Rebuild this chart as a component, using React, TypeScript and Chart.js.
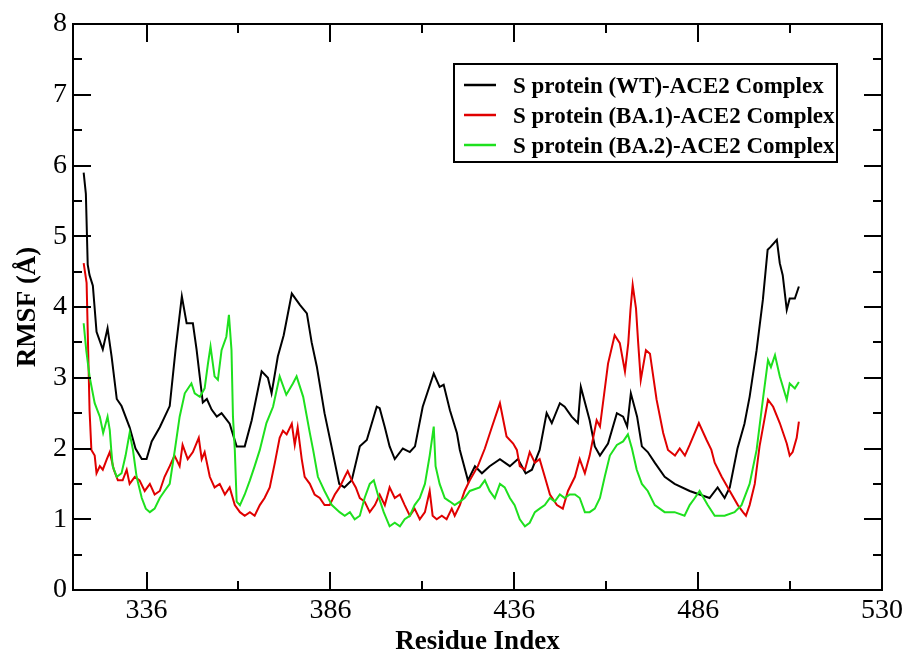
import { useEffect, useRef } from 'react';
import { Chart, registerables } from 'chart.js';

Chart.register(...registerables);

const SERIF = "'Liberation Serif', 'Times New Roman', serif";

const X_MAJOR = [336, 386, 436, 486, 536];
const X_MAJOR_LABELS = ['336', '386', '436', '486', '530'];
const X_MINOR = [361, 411, 461, 511];
const Y_MAJOR = [0, 1, 2, 3, 4, 5, 6, 7, 8];
const Y_MINOR = [0.5, 1.5, 2.5, 3.5, 4.5, 5.5, 6.5, 7.5];

const SERIES_LABELS = [
  'S protein (WT)-ACE2 Complex',
  'S protein (BA.1)-ACE2 Complex',
  'S protein (BA.2)-ACE2 Complex',
];
const SERIES_COLORS = ['#000000', '#e00000', '#1ee01e'];

const wtResidues = [
  318.9, 319.5, 320.0, 320.5, 321.4, 322.4, 324.1, 325.4, 326.5, 327.9, 329.2, 331.4, 333.0, 334.7, 336.0,
  337.4, 339.6, 342.3, 343.9, 345.6, 346.9, 348.6, 349.6, 351.3, 352.4, 353.7, 355.1, 356.4, 358.6, 360.5,
  362.7, 364.6, 367.3, 369.0, 370.0, 371.7, 373.3, 375.5, 377.7, 379.6, 380.9, 382.3, 384.4, 386.3, 388.4,
  389.8, 391.8, 394.0, 395.9, 398.6, 399.4, 400.8, 402.1, 403.5, 405.7, 407.6, 409.0, 411.1, 414.1, 415.7,
  416.8, 418.5, 420.4, 421.2, 423.4, 425.3, 427.2, 429.3, 432.1, 434.8, 437.0, 439.1, 440.8, 442.9, 444.8,
  446.2, 448.4, 449.7, 451.6, 453.3, 454.1, 456.5, 457.9, 459.3, 461.5, 463.9, 465.6, 466.7, 467.7, 469.4,
  470.7, 472.3, 474.2, 476.9, 479.6, 483.7, 486.4, 489.1, 491.3, 493.2, 494.6, 496.7, 498.6, 500.0, 501.9,
  503.6, 504.9, 505.7, 507.4, 508.2, 509.0, 510.1, 510.9, 512.3, 513.4,
];
const wtRmsf = [
  5.9, 5.6, 4.6, 4.45, 4.3, 3.65, 3.4, 3.7, 3.3, 2.7, 2.6, 2.3, 2.0, 1.85, 1.85,
  2.1, 2.3, 2.6, 3.4, 4.15, 3.77, 3.77, 3.4, 2.65, 2.7, 2.55, 2.45, 2.5, 2.35, 2.03,
  2.03, 2.4, 3.09, 3.0, 2.78, 3.3, 3.6, 4.19, 4.03, 3.91, 3.5, 3.16, 2.5, 2.03, 1.5,
  1.45, 1.55, 2.03, 2.12, 2.59, 2.57, 2.3, 2.03, 1.85, 2.0, 1.95, 2.03, 2.59, 3.06, 2.87,
  2.9, 2.54, 2.22, 1.98, 1.55, 1.75, 1.65, 1.75, 1.85, 1.75, 1.85, 1.65, 1.7, 1.98, 2.5,
  2.36, 2.64, 2.59, 2.45, 2.36, 2.87, 2.4, 2.03, 1.9, 2.07, 2.5, 2.45, 2.31, 2.78, 2.45,
  2.03, 1.95, 1.8, 1.6, 1.5, 1.4, 1.35, 1.3, 1.45, 1.3, 1.45, 2.0, 2.35, 2.73, 3.39,
  4.1, 4.81, 4.85, 4.95, 4.62, 4.45, 3.96, 4.12, 4.12, 4.29,
];

const ba1Residues = [
  318.9, 319.7, 320.3, 320.5, 321.0, 321.9, 322.4, 323.3, 324.1, 325.2, 326.0, 327.1, 328.2, 329.5, 330.6,
  331.4, 332.8, 334.1, 335.5, 336.9, 338.2, 339.6, 340.9, 342.3, 343.6, 345.0, 345.8, 347.2, 348.6, 350.2,
  351.0, 351.8, 353.2, 354.5, 355.9, 357.3, 358.6, 360.0, 361.4, 362.7, 364.1, 365.4, 366.8, 368.1, 369.5,
  370.9, 372.2, 373.1, 374.1, 375.5, 376.3, 377.1, 378.2, 379.0, 380.4, 381.7, 383.1, 384.4, 385.8, 387.2,
  388.5, 389.9, 390.7, 391.8, 392.9, 394.0, 395.3, 396.7, 398.1, 399.4, 400.8, 402.1, 403.5, 404.9, 406.2,
  407.6, 408.9, 410.3, 411.7, 413.0, 413.8, 414.9, 416.3, 417.6, 419.0, 419.8, 421.2, 422.5, 423.9, 426.1,
  428.0, 429.9, 432.1, 433.9, 435.7, 436.7, 437.5, 438.9, 440.2, 441.6, 442.9, 444.3, 445.7, 447.6, 449.2,
  450.6, 452.5, 453.8, 455.2, 456.5, 458.4, 459.3, 461.5, 463.3, 464.7, 466.1, 467.0, 467.6, 468.2, 469.1,
  469.7, 470.4, 471.8, 472.9, 474.7, 476.5, 477.8, 479.7, 481.0, 482.4, 483.7, 486.2, 488.3, 489.6, 490.5,
  492.4, 494.6, 496.8, 498.2, 499.0, 500.0, 501.4, 502.7, 505.0, 506.4, 508.2, 510.1, 510.9, 511.7, 512.8,
  513.4,
];
const ba1Rmsf = [
  4.62, 4.34, 3.0, 2.54, 1.98, 1.9, 1.65, 1.75, 1.7, 1.85, 1.95, 1.7, 1.55, 1.55, 1.7,
  1.5, 1.6, 1.55, 1.4, 1.5, 1.35, 1.4, 1.6, 1.75, 1.9, 1.75, 2.05, 1.85, 1.95, 2.15,
  1.85, 1.95, 1.6, 1.45, 1.5, 1.35, 1.45, 1.2, 1.1, 1.05, 1.1, 1.05, 1.2, 1.3, 1.45,
  1.8, 2.15, 2.25, 2.2, 2.35, 2.05, 2.3, 1.85, 1.6, 1.5, 1.35, 1.3, 1.2, 1.2, 1.35,
  1.45, 1.6, 1.68, 1.55, 1.45, 1.3, 1.25, 1.1, 1.2, 1.35, 1.2, 1.45, 1.3, 1.35, 1.2,
  1.05, 1.15, 1.0, 1.1, 1.4, 1.05, 1.0, 1.05, 1.0, 1.15, 1.05, 1.2, 1.4, 1.55, 1.75,
  2.0, 2.3, 2.64, 2.17, 2.07, 1.98, 1.75, 1.7, 1.95, 1.8, 1.85, 1.6, 1.35, 1.2, 1.15,
  1.4, 1.6, 1.85, 1.65, 1.9, 2.4, 2.31, 3.2, 3.6, 3.49, 3.09, 3.49, 3.96, 4.31, 3.98,
  3.49, 2.97, 3.39, 3.34, 2.69, 2.22, 1.98, 1.9, 2.0, 1.9, 2.05, 2.36, 2.12, 1.98, 1.8,
  1.6, 1.4, 1.2, 1.1, 1.05, 1.2, 1.5, 2.03, 2.69, 2.59, 2.36, 2.07, 1.9, 1.95, 2.15,
  2.38,
];

const ba2Residues = [
  318.9, 319.6, 320.5, 321.9, 323.3, 324.2, 325.4, 326.0, 326.4, 326.8, 327.9, 329.2, 330.3, 331.4, 332.3,
  333.3, 334.7, 335.8, 336.9, 338.2, 339.6, 340.9, 342.3, 343.7, 345.0, 346.4, 348.2, 349.1, 350.5, 351.8,
  352.7, 353.4, 354.5, 355.4, 356.4, 357.7, 358.4, 359.1, 359.5, 360.0, 360.5, 361.4, 362.7, 364.1, 365.4,
  366.8, 368.6, 370.4, 372.2, 374.0, 375.8, 376.8, 378.6, 380.4, 381.3, 382.6, 384.4, 386.4, 388.5, 389.9,
  391.3, 392.6, 394.0, 395.3, 396.7, 397.8, 398.9, 400.5, 402.1, 403.5, 404.9, 406.2, 407.6, 408.9, 410.3,
  411.7, 413.0, 414.1, 414.6, 415.7, 417.1, 418.5, 419.8, 421.2, 422.5, 423.9, 426.6, 428.0, 429.3, 430.7,
  432.1, 433.4, 434.8, 436.1, 437.5, 438.9, 440.2, 441.6, 442.9, 444.3, 445.7, 447.0, 448.4, 449.7, 451.1,
  452.5, 453.8, 455.2, 456.5, 457.9, 459.3, 460.6, 462.0, 463.9, 465.6, 466.9, 468.0, 469.3, 470.7, 472.3,
  474.2, 476.9, 479.6, 482.3, 483.7, 485.1, 486.4, 488.6, 490.5, 493.2, 495.9, 497.8, 500.0, 501.9, 503.7,
  505.0, 505.8, 506.9, 508.2, 510.1, 510.9, 512.3, 513.4,
];
const ba2Rmsf = [
  3.77, 3.39, 3.02, 2.64, 2.45, 2.22, 2.45, 2.26, 1.98, 1.75, 1.6, 1.65, 1.9, 2.22, 1.98,
  1.6, 1.3, 1.15, 1.1, 1.15, 1.3, 1.4, 1.5, 1.98, 2.45, 2.78, 2.92, 2.78, 2.73, 2.85,
  3.2, 3.44, 3.02, 2.97, 3.39, 3.58, 3.89, 3.39, 2.45, 1.98, 1.25, 1.2, 1.35, 1.55, 1.75,
  1.98, 2.36, 2.59, 3.02, 2.76, 2.92, 3.02, 2.73, 2.22, 1.98, 1.6, 1.4, 1.2, 1.1, 1.05,
  1.1, 1.0, 1.05, 1.3, 1.5, 1.55, 1.35, 1.1, 0.9, 0.95, 0.9, 1.0, 1.05, 1.2, 1.3,
  1.5, 1.9, 2.31, 1.75, 1.5, 1.3, 1.25, 1.2, 1.25, 1.3, 1.4, 1.45, 1.55, 1.4, 1.3,
  1.5, 1.45, 1.3, 1.2, 1.0, 0.9, 0.95, 1.1, 1.15, 1.2, 1.3, 1.25, 1.35, 1.3, 1.35,
  1.35, 1.3, 1.1, 1.1, 1.15, 1.3, 1.6, 1.9, 2.05, 2.1, 2.2, 2.0, 1.7, 1.5, 1.4,
  1.2, 1.1, 1.1, 1.05, 1.2, 1.3, 1.4, 1.2, 1.05, 1.05, 1.1, 1.2, 1.5, 1.98, 2.73,
  3.25, 3.15, 3.32, 3.02, 2.69, 2.92, 2.85, 2.94,
];

const toPoints = (xs: number[], ys: number[]) => xs.map((x, i) => ({ x, y: ys[i] }));

const framePlugin = {
  id: 'xmgraceFrame',
  afterDatasetsDraw(chart: any) {
    const { ctx, chartArea: a, scales } = chart;
    const xs = scales.x;
    const ys = scales.y;
    ctx.save();
    ctx.strokeStyle = '#000';
    ctx.lineWidth = 2;
    ctx.strokeRect(a.left, a.top, a.right - a.left, a.bottom - a.top);
    const MAJ = 18;
    const MIN = 9;
    ctx.beginPath();
    const vTick = (v: number, len: number) => {
      const px = Math.round(xs.getPixelForValue(v));
      ctx.moveTo(px, a.bottom);
      ctx.lineTo(px, a.bottom - len);
      ctx.moveTo(px, a.top);
      ctx.lineTo(px, a.top + len);
    };
    const hTick = (v: number, len: number) => {
      const py = Math.round(ys.getPixelForValue(v));
      ctx.moveTo(a.left, py);
      ctx.lineTo(a.left + len, py);
      ctx.moveTo(a.right, py);
      ctx.lineTo(a.right - len, py);
    };
    X_MAJOR.forEach((v) => vTick(v, MAJ));
    X_MINOR.forEach((v) => vTick(v, MIN));
    Y_MAJOR.forEach((v) => hTick(v, MAJ));
    Y_MINOR.forEach((v) => hTick(v, MIN));
    ctx.stroke();
    ctx.restore();
  },
  afterDraw(chart: any) {
    const { ctx, chartArea: a } = chart;
    ctx.save();
    // axis titles
    ctx.fillStyle = '#000';
    ctx.font = `bold 27px ${SERIF}`;
    ctx.textAlign = 'center';
    ctx.textBaseline = 'alphabetic';
    ctx.fillText('Residue Index', (a.left + a.right) / 2, 649);
    ctx.save();
    ctx.translate(28, (a.top + a.bottom) / 2);
    ctx.rotate(-Math.PI / 2);
    ctx.textBaseline = 'middle';
    ctx.fillText('RMSF (Å)', 0, 0);
    ctx.restore();

    // legend box
    const bx = 454, by = 64, bw = 383, bh = 98;
    ctx.fillStyle = '#fff';
    ctx.fillRect(bx, by, bw, bh);
    ctx.strokeStyle = '#000';
    ctx.lineWidth = 2;
    ctx.strokeRect(bx, by, bw, bh);
    ctx.font = `bold 23px ${SERIF}`;
    ctx.textAlign = 'left';
    ctx.textBaseline = 'alphabetic';
    chart.data.datasets.forEach((ds: any, i: number) => {
      const base = 93 + i * 30;
      ctx.strokeStyle = ds.borderColor;
      ctx.lineWidth = 2.5;
      ctx.beginPath();
      ctx.moveTo(464, base - 8);
      ctx.lineTo(496, base - 8);
      ctx.stroke();
      ctx.fillStyle = '#000';
      ctx.fillText(ds.label, 513, base);
    });
    ctx.restore();
  },
};

export default function App() {
  const canvasRef = useRef<HTMLCanvasElement | null>(null);

  useEffect(() => {
    const canvas = canvasRef.current;
    if (!canvas) return;
    const seriesX = [wtResidues, ba1Residues, ba2Residues];
    const seriesY = [wtRmsf, ba1Rmsf, ba2Rmsf];
    const chart = new Chart(canvas, {
      type: 'line',
      data: {
        datasets: SERIES_LABELS.map((label, i) => ({
          label,
          data: toPoints(seriesX[i], seriesY[i]),
          borderColor: SERIES_COLORS[i],
          backgroundColor: SERIES_COLORS[i],
          borderWidth: 2,
          pointRadius: 0,
          tension: 0,
          fill: false,
          order: 3 - i,
        })),
      },
      options: {
        animation: false,
        responsive: false,
        devicePixelRatio: 1,
        layout: { padding: { top: 24, right: 26, bottom: 0, left: 0 } },
        plugins: {
          legend: { display: false },
          tooltip: { enabled: false },
        },
        scales: {
          x: {
            type: 'linear',
            min: 316,
            max: 536,
            grid: { display: false, drawTicks: false },
            border: { display: false },
            afterBuildTicks: (s: any) => {
              s.ticks = X_MAJOR.map((v) => ({ value: v }));
            },
            afterFit: (s: any) => {
              s.height = 61;
            },
            ticks: {
              autoSkip: false,
              maxRotation: 0,
              color: '#000',
              padding: 4,
              font: { family: SERIF, size: 28 },
              callback: (v: any) => {
                const idx = X_MAJOR.indexOf(Number(v));
                return idx >= 0 ? X_MAJOR_LABELS[idx] : '';
              },
            },
          },
          y: {
            type: 'linear',
            min: 0,
            max: 8,
            grid: { display: false, drawTicks: false },
            border: { display: false },
            afterBuildTicks: (s: any) => {
              s.ticks = Y_MAJOR.map((v) => ({ value: v }));
            },
            afterFit: (s: any) => {
              s.width = 73;
            },
            ticks: {
              color: '#000',
              padding: 6,
              font: { family: SERIF, size: 28 },
              callback: (v: any) => String(v),
            },
          },
        },
      },
      plugins: [framePlugin],
    });
    return () => chart.destroy();
  }, []);

  return (
    <div style={{ position: 'absolute', left: 0, top: 0, width: 908, height: 651, background: '#fff' }}>
      <canvas ref={canvasRef} width={908} height={651} style={{ display: 'block' }} />
    </div>
  );
}
